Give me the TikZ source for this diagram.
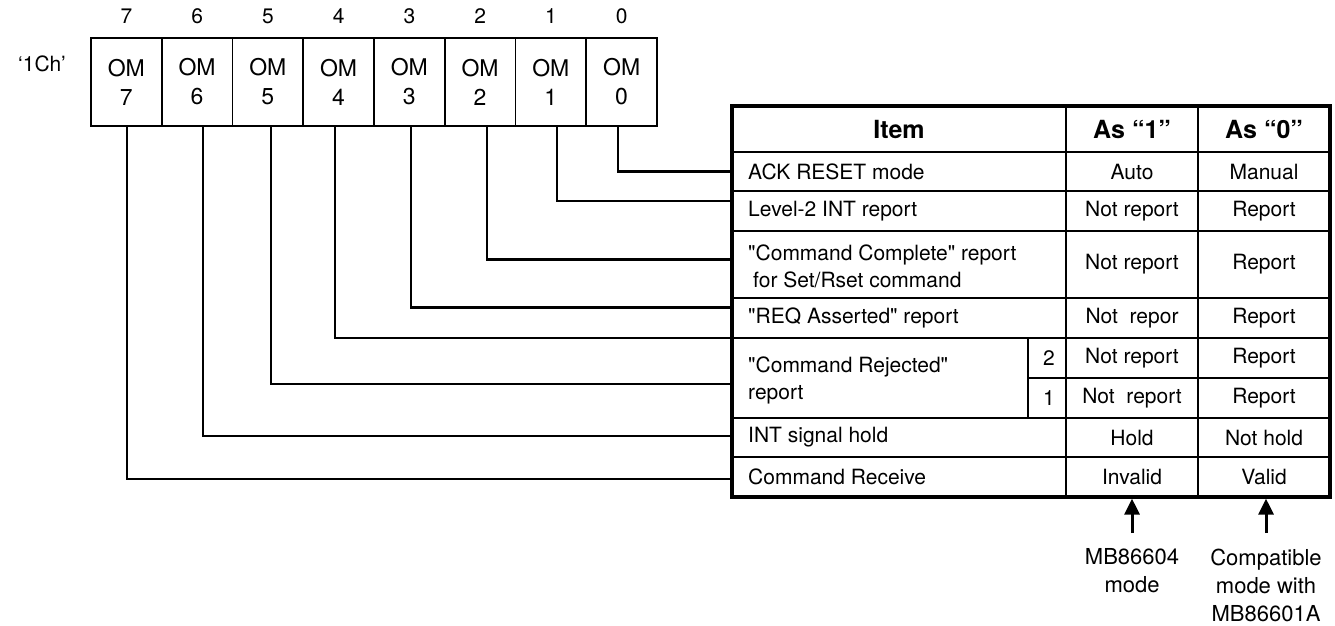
\documentclass[tikz,border=0pt]{standalone}
\usepackage{fontspec}
\setmainfont{TeX Gyre Heros}[Ligatures=TeXOff]
\usetikzlibrary{arrows.meta}
\begin{document}
\begin{tikzpicture}[x=1pt,y=-1pt,
  cell/.style={draw,line width=1.6pt,minimum width=70.75pt,minimum height=88pt,inner sep=0pt,align=center,font=\fontsize{23}{29}\selectfont},
  bitno/.style={font=\fontsize{21}{25}\selectfont},
  txt/.style={font=\fontsize{21}{27}\selectfont,inner sep=0pt},
  itemtxt/.style={txt,anchor=west,align=left},
  hdr/.style={font=\fontsize{25}{30}\bfseries\selectfont,inner sep=0pt},
  conn/.style={line width=2.7pt},
  grid/.style={line width=1.7pt},
  outer/.style={draw,line width=3.2pt,inner sep=0pt},
  lbl/.style={font=\fontsize{22}{28}\selectfont,align=center,inner sep=0pt},
  arr/.style={line width=3pt,-{Triangle[width=15pt,length=16pt]}}
]
\useasboundingbox (0,0) rectangle (1335,625);

% register cells
\foreach \i in {0,...,7}{
  \pgfmathsetmacro{\cx}{91+70.75*(7-\i)+35.375}
  \node[cell] (c\i) at (\cx,82) {OM\\\i};
  \node[bitno] (b\i) at (\cx,16) {\i};
}
\node[font=\fontsize{21}{25}\selectfont] (reg) at (42,64) {‘1Ch’};

% table
\node[outer,minimum width=598pt,minimum height=391pt] (tbl) at (1031,301.5) {};
\draw[grid] (732,152) -- (1330,152);
\draw[grid] (732,191) -- (1330,191);
\draw[grid] (732,231) -- (1330,231);
\draw[grid] (732,298) -- (1330,298);
\draw[grid] (732,338) -- (1330,338);
\draw[grid] (1028,378) -- (1330,378);
\draw[grid] (732,418) -- (1330,418);
\draw[grid] (732,457) -- (1330,457);
\draw[grid] (1066,106) -- (1066,497);
\draw[grid] (1198,106) -- (1198,497);
\draw[grid] (1028,338) -- (1028,418);

% header
\node[hdr] (hItem) at (899,129) {Item};
\node[hdr] (hA1) at (1132,129) {As “1”};
\node[hdr] (hA0) at (1264,129) {As “0”};

% rows
\node[itemtxt] (i0) at (748,171.5) {ACK RESET mode};
\node[txt] (v01) at (1132,171.5) {Auto};
\node[txt] (v00) at (1264,171.5) {Manual};

\node[itemtxt] (i1) at (748,211) {Level-2 INT report};
\node[txt] (v11) at (1132,211) {Not report};
\node[txt] (v10) at (1264,211) {Report};

\node[itemtxt] (i2) at (748,266.5) {"Command Complete" report\\\hspace{5pt}for Set/Rset command};
\node[txt] (v21) at (1132,264.5) {Not report};
\node[txt] (v20) at (1264,264.5) {Report};

\node[itemtxt] (i3) at (748,318) {"REQ Asserted" report};
\node[txt] (v31) at (1132,318) {Not~~repor};
\node[txt] (v30) at (1264,318) {Report};

\node[itemtxt] (i4) at (748,380.5) {"Command Rejected"\\report};
\node[txt] (n2) at (1049,358) {2};
\node[txt] (n1) at (1049,398) {1};
\node[txt] (v41) at (1132,358) {Not report};
\node[txt] (v40) at (1264,358) {Report};
\node[txt] (v51) at (1132,398) {Not~~report};
\node[txt] (v50) at (1264,398) {Report};

\node[itemtxt] (i6) at (748,437.5) {INT signal hold};
\node[txt] (v61) at (1132,437.5) {Hold};
\node[txt] (v60) at (1264,437.5) {Not hold};

\node[itemtxt] (i7) at (748,477) {Command Receive};
\node[txt] (v71) at (1132,477) {Invalid};
\node[txt] (v70) at (1264,477) {Valid};

% connector endpoints at the table edge
\coordinate (t0) at (732,171.5);
\coordinate (t1) at (732,201);
\coordinate (t2) at (732,259.5);
\coordinate (t3) at (732,307.5);
\coordinate (t4) at (732,338);
\coordinate (t5) at (732,384);
\coordinate (t6) at (732,436);
\coordinate (t7) at (732,479);

\draw[conn] ([xshift=-3.6pt]c0.south) |- (t0);
\draw[conn] ([xshift=6pt]c1.south) |- (t1);
\draw[conn] ([xshift=7pt]c2.south) |- (t2);
\draw[conn] ([xshift=1.6pt]c3.south) |- (t3);
\draw[conn] ([xshift=-3.6pt]c4.south) |- (t4);
\draw[conn] ([xshift=3pt]c5.south) |- (t5);
\draw[conn] ([xshift=6pt]c6.south) |- (t6);
\draw[conn] ([xshift=0.6pt]c7.south) |- (t7);

% bottom labels and arrows
\node[lbl] (m1) at (1132,571) {MB86604\\mode};
\node[lbl] (m0) at (1266,585) {Compatible\\mode with\\MB86601A};
\coordinate (a1) at (1132,533);
\coordinate (a0) at (1266,533);
\draw[arr] (a1) -- (a1 |- tbl.south);
\draw[arr] (a0) -- (a0 |- tbl.south);
\end{tikzpicture}
\end{document}
